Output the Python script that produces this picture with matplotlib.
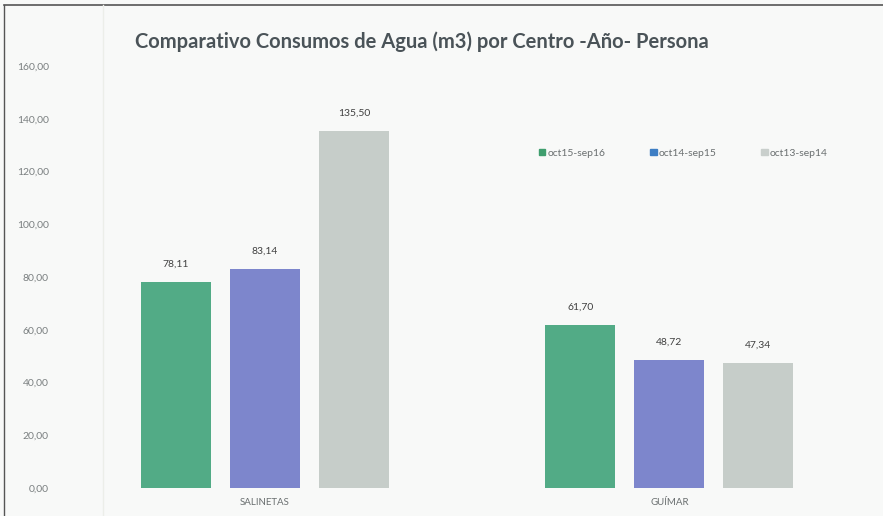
import matplotlib.pyplot as plt
import numpy as np
from matplotlib.patches import Patch
from matplotlib.lines import Line2D

centros = ["SALINETAS", "GUÍMAR"]
periodos = ["oct15-sep16", "oct14-sep15", "oct13-sep14"]
oct15_sep16 = [78.11, 61.70]
oct14_sep15 = [83.14, 48.72]
oct13_sep14 = [135.50, 47.34]
y_ticks = [0, 20, 40, 60, 80, 100, 120, 140, 160]

plt.rcParams['font.family'] = ['Lato', 'DejaVu Sans']

def fmt(v):
    return f"{v:.2f}".replace(".", ",")

def plot():
    series = [oct15_sep16, oct14_sep15, oct13_sep14]
    colores = ["#52ab86", "#7d86cc", "#c6cdc9"]
    colores_leyenda = ["#3f9e6e", "#3d7ec4", "#c9cfcc"]

    fig = plt.figure(figsize=(8.83, 5.16), dpi=100)
    fig.patch.set_facecolor("#f8f9f8")
    ax = fig.add_axes([0.071, 0.054, 0.916, 0.818])
    ax.set_facecolor("none")

    x = np.arange(len(centros))
    ancho = 0.173
    paso = 0.22
    for i, vals in enumerate(series):
        pos = x + (i - 1) * paso
        barras = ax.bar(pos, vals, width=ancho, color=colores[i])
        for b, v in zip(barras, vals):
            ax.text(b.get_x() + b.get_width() / 2, v + 5, fmt(v),
                    ha="center", va="bottom", fontsize=7.5, color="#404040")

    ax.set_xlim(-0.5, 1.5)
    ax.set_ylim(0, 160)
    ax.set_yticks(y_ticks)
    ax.set_yticklabels([fmt(t) for t in y_ticks], fontsize=7.5, color="#7a7f80")
    ax.set_xticks(x)
    ax.set_xticklabels(centros, fontsize=7, color="#6a6f70")
    ax.tick_params(length=0, pad=7)
    ax.tick_params(axis="y", pad=10)
    for s in ax.spines.values():
        s.set_visible(False)

    fig.text(0.153, 0.919, "Comparativo Consumos de Agua (m3) por Centro -Año- Persona",
             fontsize=14.5, fontweight="bold", color="#4a5358", va="center", ha="left")

    handles = [Patch(color=c) for c in colores_leyenda]
    fig.legend(handles, periodos, loc="center left", bbox_to_anchor=(0.6, 0.703),
               ncol=3, frameon=False, fontsize=7.5, handlelength=0.6, handleheight=0.6,
               handletextpad=0.2, columnspacing=4.3, labelcolor="#6a6f70")

    fig.add_artist(Line2D([0.004, 0.004], [0, 0.99], color="#555555", lw=1))
    fig.add_artist(Line2D([0.004, 1], [0.99, 0.99], color="#555555", lw=1.2))
    fig.add_artist(Line2D([0.117, 0.117], [0, 0.99], color="#eceee9", lw=1))

    fig.savefig("out.png", dpi=100, facecolor=fig.get_facecolor())

plot()
